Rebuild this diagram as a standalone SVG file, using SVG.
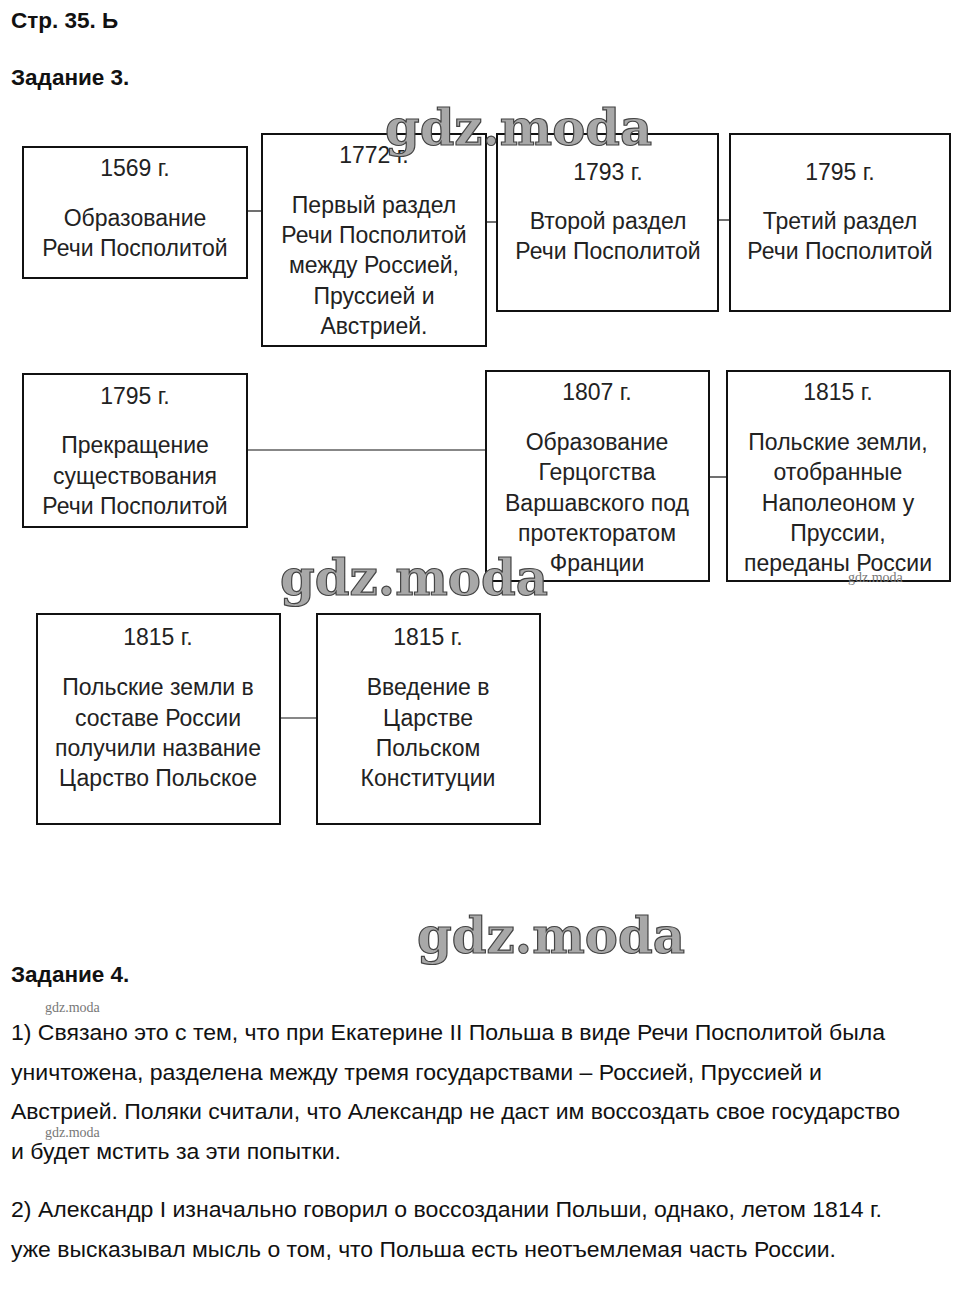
<svg xmlns="http://www.w3.org/2000/svg" width="959" height="1309" viewBox="0 0 959 1309">
<style>
.box{fill:#fff;stroke:#111;stroke-width:2}
.conn{stroke:#111;stroke-width:1.2;fill:none}
.t{font-family:"Liberation Sans",Arial,sans-serif;font-size:23px;fill:#222;text-anchor:middle}
.h{font-family:"Liberation Sans",Arial,sans-serif;font-size:22.5px;font-weight:bold;fill:#111}
.p{font-family:"Liberation Sans",Arial,sans-serif;font-size:22px;fill:#111}
.wm{font-family:"DejaVu Serif","Liberation Serif",serif;font-weight:bold;fill:#a8a8a8;stroke:#444;stroke-width:1.2}
.wms{font-family:"Liberation Serif",serif;font-size:14px;fill:#777}
</style>
<rect width="959" height="1309" fill="#fff"/>
<text class="h" x="11" y="28">Стр. 35. Ь</text>
<text class="h" x="11" y="85">Задание 3.</text>
<g id="connectors">
<line class="conn" x1="247" y1="211" x2="262" y2="211"/>
<line class="conn" x1="486" y1="222" x2="497" y2="222"/>
<line class="conn" x1="718" y1="220" x2="730" y2="220"/>
<line class="conn" x1="247" y1="450" x2="486" y2="450"/>
<line class="conn" x1="709" y1="477" x2="727" y2="477"/>
<line class="conn" x1="280" y1="718" x2="317" y2="718"/>
</g>
<g id="n1">
<rect class="box" x="23" y="147" width="224" height="131"/>
<text class="t" x="135" y="176">1569 г.</text>
<text class="t" x="135" y="226">Образование</text>
<text class="t" x="135" y="256">Речи Посполитой</text>
</g>
<g id="n2">
<rect class="box" x="262" y="134" width="224" height="212"/>
<text class="t" x="374" y="163">1772 г.</text>
<text class="t" x="374" y="213">Первый раздел</text>
<text class="t" x="374" y="243">Речи Посполитой</text>
<text class="t" x="374" y="273">между Россией,</text>
<text class="t" x="374" y="304">Пруссией и</text>
<text class="t" x="374" y="334">Австрией.</text>
</g>
<g id="n3">
<rect class="box" x="497" y="134" width="221" height="177"/>
<text class="t" x="608" y="180">1793 г.</text>
<text class="t" x="608" y="229">Второй раздел</text>
<text class="t" x="608" y="259">Речи Посполитой</text>
</g>
<g id="n4">
<rect class="box" x="730" y="134" width="220" height="177"/>
<text class="t" x="840" y="180">1795 г.</text>
<text class="t" x="840" y="229">Третий раздел</text>
<text class="t" x="840" y="259">Речи Посполитой</text>
</g>
<g id="n5">
<rect class="box" x="23" y="374" width="224" height="153"/>
<text class="t" x="135" y="404">1795 г.</text>
<text class="t" x="135" y="453">Прекращение</text>
<text class="t" x="135" y="484">существования</text>
<text class="t" x="135" y="514">Речи Посполитой</text>
</g>
<g id="n6">
<rect class="box" x="486" y="371" width="223" height="210"/>
<text class="t" x="597" y="400">1807 г.</text>
<text class="t" x="597" y="450">Образование</text>
<text class="t" x="597" y="480">Герцогства</text>
<text class="t" x="597" y="511">Варшавского под</text>
<text class="t" x="597" y="541">протекторатом</text>
<text class="t" x="597" y="571">Франции</text>
</g>
<g id="n7">
<rect class="box" x="727" y="371" width="223" height="210"/>
<text class="t" x="838" y="400">1815 г.</text>
<text class="t" x="838" y="450">Польские земли,</text>
<text class="t" x="838" y="480">отобранные</text>
<text class="t" x="838" y="511">Наполеоном у</text>
<text class="t" x="838" y="541">Пруссии,</text>
<text class="t" x="838" y="571">переданы России</text>
</g>
<g id="n8">
<rect class="box" x="37" y="614" width="243" height="210"/>
<text class="t" x="158" y="645">1815 г.</text>
<text class="t" x="158" y="695">Польские земли в</text>
<text class="t" x="158" y="726">составе России</text>
<text class="t" x="158" y="756">получили название</text>
<text class="t" x="158" y="786">Царство Польское</text>
</g>
<g id="n9">
<rect class="box" x="317" y="614" width="223" height="210"/>
<text class="t" x="428" y="645">1815 г.</text>
<text class="t" x="428" y="695">Введение в</text>
<text class="t" x="428" y="726">Царстве</text>
<text class="t" x="428" y="756">Польском</text>
<text class="t" x="428" y="786">Конституции</text>
</g>
<text class="h" x="11" y="982">Задание 4.</text>
<text class="p" x="11" y="1040" textLength="874" lengthAdjust="spacingAndGlyphs">1) Связано это с тем, что при Екатерине II Польша в виде Речи Посполитой была</text>
<text class="p" x="11" y="1080" textLength="811" lengthAdjust="spacingAndGlyphs">уничтожена, разделена между тремя государствами – Россией, Пруссией и</text>
<text class="p" x="11" y="1119" textLength="889" lengthAdjust="spacingAndGlyphs">Австрией. Поляки считали, что Александр не даст им воссоздать свое государство</text>
<text class="p" x="11" y="1159" textLength="330" lengthAdjust="spacingAndGlyphs">и будет мстить за эти попытки.</text>
<text class="p" x="11" y="1217" textLength="871" lengthAdjust="spacingAndGlyphs">2) Александр I изначально говорил о воссоздании Польши, однако, летом 1814 г.</text>
<text class="p" x="11" y="1257" textLength="825" lengthAdjust="spacingAndGlyphs">уже высказывал мысль о том, что Польша есть неотъемлемая часть России.</text>
<g id="watermarks">
<text class="wm" x="385" y="145" font-size="50" textLength="267" lengthAdjust="spacingAndGlyphs">gdz.moda</text>
<text class="wm" x="280" y="595" font-size="50" textLength="268" lengthAdjust="spacingAndGlyphs">gdz.moda</text>
<text class="wm" x="417" y="953" font-size="50" textLength="268" lengthAdjust="spacingAndGlyphs">gdz.moda</text>
<text class="wms" x="45" y="1012">gdz.moda</text>
<text class="wms" x="45" y="1137">gdz.moda</text>
<text class="wms" x="848" y="582" font-size="11">gdz.moda</text>
</g>
</svg>
